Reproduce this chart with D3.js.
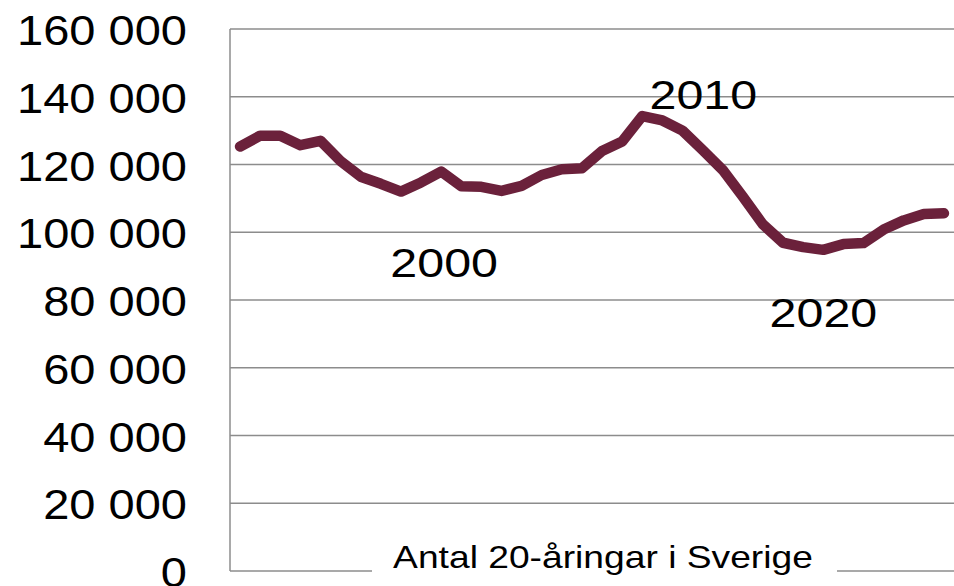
<!DOCTYPE html>
<html>
<head>
<meta charset="utf-8">
<script src="https://cdn.jsdelivr.net/npm/d3@7"></script>
<style>
  body { margin: 0; background: #fff; }
  text { font-family: "Liberation Sans", Arial, sans-serif; fill: #000; }
</style>
</head>
<body>
<svg width="954" height="586"></svg>
<script>
// 20-year-olds in Sweden, one value per year
var years = d3.range(1990, 2026);
var counts = [125300, 128500, 128500, 125700, 127000, 121000, 116400, 114300, 112000, 114700,
              117900, 113600, 113400, 112200, 113700, 116900, 118600, 118900, 124000, 126800,
              134300, 133000, 130000, 124300, 118400, 110500, 102300, 96900, 95600, 94800,
              96500, 96800, 100800, 103500, 105400, 105600];
var yTicks = [0, 20000, 40000, 60000, 80000, 100000, 120000, 140000, 160000];
var yearLabels = ["2000", "2010", "2020"];
var title = "Antal 20-åringar i Sverige";

var svg = d3.select("svg");
var plotLeft = 230, plotRight = 954, plotTop = 29, plotBottom = 571;

var x = d3.scalePoint()
  .domain(years)
  .range([plotLeft, plotRight])
  .padding(0.5);

var y = d3.scaleLinear()
  .domain([0, 160000])
  .range([plotBottom, plotTop]);

var fmt = function(d) { return d3.format(",")(d).replace(/,/g, " "); };

// gridlines
svg.append("g")
  .selectAll("line")
  .data(yTicks.filter(function(d) { return d > 0; }))
  .enter()
  .append("line")
  .attr("x1", plotLeft).attr("x2", plotRight)
  .attr("y1", function(d) { return y(d); })
  .attr("y2", function(d) { return y(d); })
  .attr("stroke", "#8c8c8c")
  .attr("stroke-width", 1.5);

// left axis line and bottom axis line
svg.append("line")
  .attr("x1", plotLeft).attr("x2", plotLeft)
  .attr("y1", y(160000)).attr("y2", y(0))
  .attr("stroke", "#8c8c8c").attr("stroke-width", 1.5);
svg.append("line")
  .attr("x1", plotLeft).attr("x2", plotRight)
  .attr("y1", y(0)).attr("y2", y(0))
  .attr("stroke", "#8c8c8c").attr("stroke-width", 1.5);

// y tick labels (slightly stretched like the original)
svg.append("g")
  .selectAll("g")
  .data(yTicks)
  .enter()
  .append("g")
  .attr("transform", function(d) { return "translate(187," + (y(d) + 16) + ") scale(1.12,1)"; })
  .append("text")
  .attr("text-anchor", "end")
  .attr("font-size", 42)
  .text(fmt);

// the series
var line = d3.line()
  .x(function(d, i) { return x(years[i]); })
  .y(function(d) { return y(d); });

svg.append("path")
  .datum(counts)
  .attr("d", line)
  .attr("fill", "none")
  .attr("stroke", "#6b213b")
  .attr("stroke-width", 10.5)
  .attr("stroke-linejoin", "round")
  .attr("stroke-linecap", "round");

// year annotations placed next to the line
var labelShift = {"2000": [3, 86800], "2010": [61, 136400], "2020": [-20, 72000]};
svg.append("g")
  .selectAll("g")
  .data(yearLabels)
  .enter()
  .append("g")
  .attr("transform", function(d) {
    var s = labelShift[d];
    return "translate(" + (x(+d) + s[0]) + "," + y(s[1]) + ") scale(1.18,1)";
  })
  .append("text")
  .attr("text-anchor", "middle")
  .attr("font-size", 41)
  .text(function(d) { return d; });

// axis title sitting on the bottom axis
svg.append("rect")
  .attr("x", 372).attr("y", 540)
  .attr("width", 465).attr("height", 40)
  .attr("fill", "#fff");
svg.append("g")
  .attr("transform", "translate(603,568) scale(1.22,1)")
  .append("text")
  .attr("text-anchor", "middle")
  .attr("font-size", 30.5)
  .text(title);
</script>
</body>
</html>
